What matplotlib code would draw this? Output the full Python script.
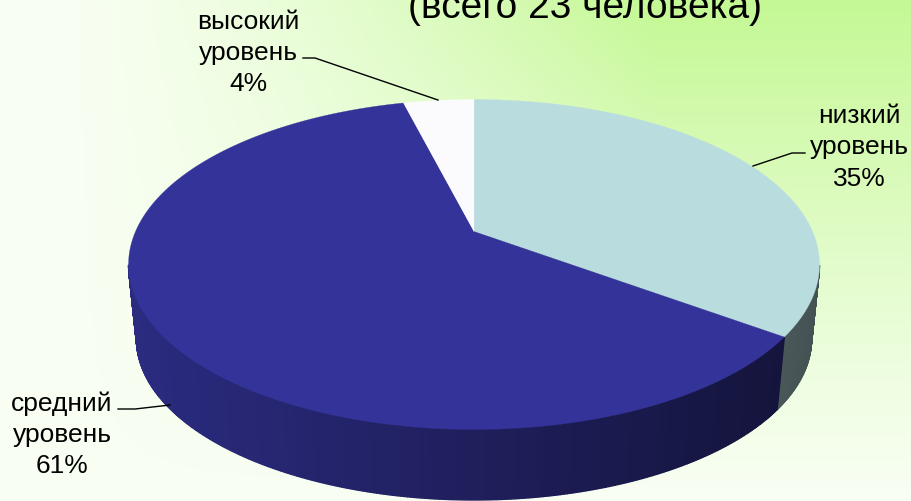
import matplotlib

matplotlib.use("Agg")
import matplotlib.pyplot as plt
import numpy as np
from matplotlib.colors import LinearSegmentedColormap

plt.rcParams["font.family"] = ["Liberation Sans", "DejaVu Sans"]

levels = ["низкий\nуровень\n35%", "средний\nуровень\n61%", "высокий\nуровень\n4%"]
shares = [35, 61, 4]
top_colors = ["#b9dcdf", "#333399", "#fbfbfd"]
wall_colors = np.array([[0xb9, 0xdc, 0xdf], [0x33, 0x33, 0x99], [0xfb, 0xfb, 0xfd]]) / 255
title = "(всего 23 человека)"

label_pos = [(859, 147.5), (62, 435), (248, 53)]
leaders = [
    [(805, 154), (792, 154), (753, 167)],
    [(118, 410), (135, 410), (170, 406)],
    [(303, 59), (315, 59), (438, 101)],
]

W, H = 912, 502
APEX_X, APEX_Y = 474, 232.5
BACK_TILT = 0.2
RX, RY = 338.5, 158.4
DEPTH = 75
BOTTOM_SCALE = 0.977


def project(theta, scale=1.0, drop=0.0):
    # clockwise angle from 12 o'clock on the disc, with perspective
    u, v = np.sin(theta), np.cos(theta)
    w = 1 + BACK_TILT * v
    return APEX_X + scale * RX * u / w, APEX_Y + drop - scale * RY * v / w


def wall_shade(x):
    return 0.84 - 0.44 * (x - 128) / 650


fig = plt.figure(figsize=(W / 100, H / 100), dpi=100)
ax = fig.add_axes([0, 0, 1, 1])
ax.set_xlim(0, W)
ax.set_ylim(H, 0)
ax.axis("off")

yy, xx = np.mgrid[0:1:251j, 0:1:456j]
strength = np.clip((xx - 0.08) / 0.64, 0, 1) ** 1.25 * np.clip(1 - yy / 0.98, 0, 1) ** 1.15
cmap = LinearSegmentedColormap.from_list("bg", ["#f8fff2", "#c4f894"])
ax.imshow(strength, extent=(0, W, H, 0), cmap=cmap, vmin=0, vmax=1, aspect="auto", zorder=0)

edges = 2 * np.pi * np.cumsum([0] + shares) / sum(shares)

for i in range(len(shares)):
    steps = np.arange(edges[i], edges[i + 1] + 0.006, 0.006)
    steps = steps[np.cos(steps) < -0.2]
    for a, b in zip(steps[:-1], steps[1:]):
        xa, ya = project(a)
        xb, yb = project(b)
        xc, yc = project(b, BOTTOM_SCALE, DEPTH)
        xd, yd = project(a, BOTTOM_SCALE, DEPTH)
        color = wall_colors[i] * wall_shade((xa + xb) / 2)
        ax.fill([xa, xb, xc, xd], [ya, yb, yc, yd], color=color, lw=1.0, zorder=1)

for i in range(len(shares)):
    t = np.linspace(edges[i], edges[i + 1], 200)
    x, y = project(t)
    ax.fill(
        np.r_[APEX_X, x],
        np.r_[APEX_Y, y],
        color=top_colors[i],
        lw=0.2,
        zorder=2,
    )

for text, (tx, ty), line in zip(levels, label_pos, leaders):
    ax.text(tx, ty, text, ha="center", va="center", fontsize=19, color="#000000",
            linespacing=1.38, zorder=4)
    ax.plot(*zip(*line), color="#000000", lw=1.0, zorder=3)

ax.text(585, 18.5, title, ha="center", va="baseline", fontsize=28, color="#000000", zorder=4)

fig.savefig("out.png", dpi=100)
plt.close(fig)
